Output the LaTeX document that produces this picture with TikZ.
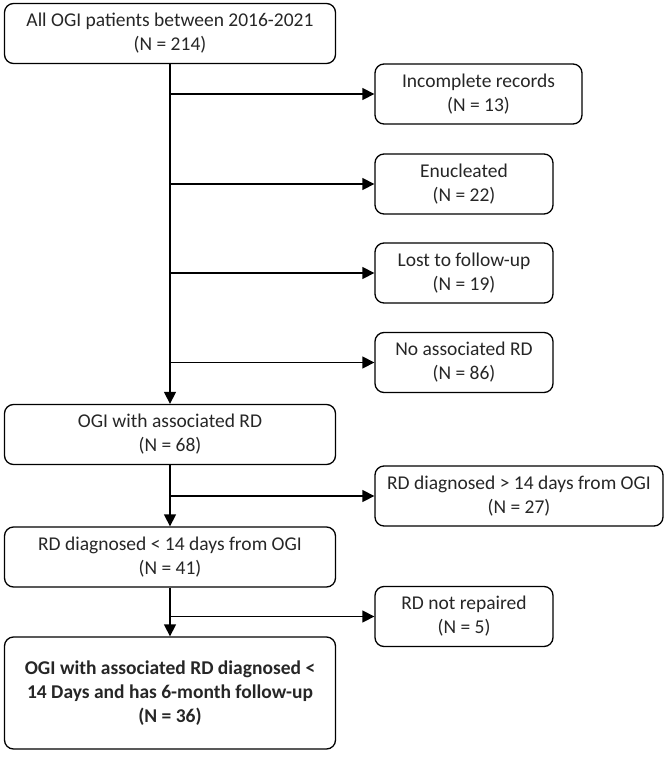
\documentclass[tikz,border=0pt]{standalone}
\usepackage{fontspec}
\setmainfont{Carlito}
\usetikzlibrary{arrows.meta,positioning}

\begin{document}
\begin{tikzpicture}[
        x=1pt, y=-1pt,
        box/.style={
            draw, rounded corners=9pt, line width=1.3pt,
            align=center, inner sep=2pt, text=black!85,
            font=\fontsize{19.5}{24}\selectfont,
            minimum height=60pt
        },
        wide/.style={box, minimum width=331pt},
        side/.style={box, minimum width=178pt},
        arr/.style={-{Triangle[length=12pt,width=12pt]}, line width=1.3pt}
      ]

  \useasboundingbox (0,0) rectangle (668,763);

  \node[wide] (all) at (170,33.5) {All OGI patients between 2016-2021\\(N = 214)};
  \node[wide] (ogird) at (170,434.5) {OGI with associated RD\\(N = 68)};
  \node[wide] (early) at (170,557) {RD diagnosed < 14 days from OGI\\(N = 41)};
  \node[wide, minimum height=112pt, font=\fontsize{19.5}{24}\selectfont\bfseries] (final) at (170,693)
    {OGI with associated RD diagnosed <\\14 Days and has 6-month follow-up\\(N = 36)};

  \node[side, minimum width=207pt] (incomplete) at (478.5,94) {Incomplete records\\(N = 13)};
  \node[side] (enucleated) at (464,184) {Enucleated\\(N = 22)};
  \node[side] (lost) at (464,273) {Lost to follow-up\\(N = 19)};
  \node[side] (nord) at (464,362.5) {No associated RD\\(N = 86)};
  \node[side, minimum width=288pt] (late) at (519,496) {RD diagnosed > 14 days from OGI\\(N = 27)};
  \node[side] (unrepaired) at (464,616.5) {RD not repaired\\(N = 5)};

  \draw[arr] (all) -- (ogird);
  \draw[arr] (ogird) -- (early);
  \draw[arr] (early) -- (final);

  \draw[arr] (all.south |- incomplete.west) -- (incomplete.west);
  \draw[arr] (all.south |- enucleated.west) -- (enucleated.west);
  \draw[arr] (all.south |- lost.west) -- (lost.west);
  \draw[arr] (all.south |- nord.west) -- (nord.west);
  \draw[arr] (ogird.south |- late.west) -- (late.west);
  \draw[arr] (early.south |- unrepaired.west) -- (unrepaired.west);
\end{tikzpicture}
\end{document}
